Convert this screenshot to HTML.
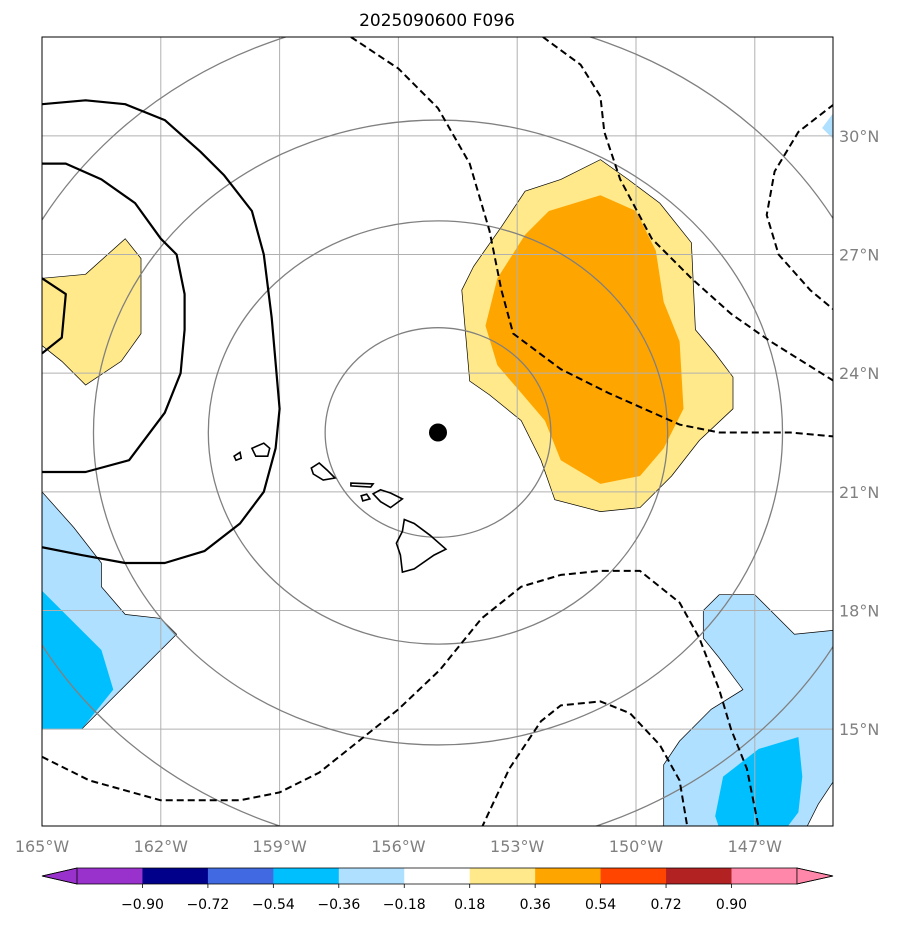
<!DOCTYPE html>
<html><head><meta charset="utf-8">
<style>
body{margin:0;background:#fff;width:903px;height:924px;overflow:hidden;font-family:"Liberation Sans","DejaVu Sans",sans-serif;}
svg text{font-family:"DejaVu Sans","Liberation Sans",sans-serif;}
</style></head>
<body>
<svg id="chart" width="903" height="924" viewBox="0 0 903 924" xmlns="http://www.w3.org/2000/svg">
<defs><clipPath id="mapclip"><rect x="42" y="37" width="791" height="789"/></clipPath></defs>
<text x="437" y="26" text-anchor="middle" font-size="17" fill="#000">2025090600 F096</text>
<g id="map" clip-path="url(#mapclip)"></g>
<rect x="42" y="37" width="791" height="789" fill="none" stroke="#000" stroke-width="1"/>
<g id="axes"></g>
<g id="cbar"></g>
</svg>
<script>
const lonTicks = [-165,-162,-159,-156,-153,-150,-147];
const latTicks = [30,27,24,21,18,15];
const cbarLevels = [-0.90,-0.72,-0.54,-0.36,-0.18,0.18,0.36,0.54,0.72,0.90];
const cbarColors = ["#9932cc","#00008b","#4169e1","#00bfff","#b0e0ff","#ffffff","#ffe98a","#ffa500","#ff4500","#b22222","#ff88aa"];
const stormCenter = [-155.0,22.5];
const yellowRight = [[-150.9,29.4],[-150.2,28.9],[-149.4,28.3],[-148.6,27.3],[-148.5,25.1],[-148.0,24.5],[-147.55,23.9],[-147.55,23.1],[-148.4,22.3],[-149.1,21.4],[-149.9,20.6],[-150.9,20.5],[-152.05,20.8],[-152.4,21.8],[-152.9,22.8],[-153.7,23.45],[-154.2,23.8],[-154.4,26.1],[-154.1,26.7],[-153.4,27.7],[-152.8,28.6],[-151.9,28.9]];
const orangeRight = [[-150.9,28.5],[-150.0,28.1],[-149.5,27.1],[-149.3,25.8],[-148.9,24.8],[-148.8,23.1],[-149.3,22.1],[-149.9,21.4],[-150.9,21.2],[-151.9,21.8],[-152.3,22.8],[-152.9,23.5],[-153.5,24.2],[-153.8,25.2],[-153.5,26.4],[-152.8,27.5],[-152.2,28.1]];
const yellowLeft = [[-165,26.4],[-163.9,26.5],[-162.9,27.4],[-162.5,26.9],[-162.5,25.0],[-163.0,24.3],[-163.9,23.7],[-164.5,24.3],[-165,24.7]];
const lightBlueLeft = [[-165,21.0],[-164.2,20.1],[-163.5,19.2],[-163.5,18.6],[-162.9,17.9],[-162.0,17.8],[-161.6,17.4],[-162.3,16.7],[-163.3,15.7],[-164.0,15.0],[-165,15.0]];
const deepBlueLeft = [[-165,18.5],[-164.5,18.0],[-163.5,17.0],[-163.2,16.0],[-164.0,15.0],[-165,15.0]];
const lightBlueRight = [[-148.3,18.0],[-147.9,18.4],[-147.0,18.4],[-146.0,17.4],[-145.0,17.5],[-145.0,13.7],[-145.4,13.1],[-145.7,12.5],[-149.3,12.5],[-149.3,14.1],[-148.9,14.7],[-148.1,15.5],[-147.3,16.0],[-147.9,16.8],[-148.3,17.3]];
const deepBlueRight = [[-148.0,12.8],[-147.8,13.8],[-146.9,14.5],[-145.9,14.8],[-145.8,13.8],[-145.9,12.9],[-146.2,12.5],[-147.9,12.5]];
const lightBlueCorner = [[-145.3,30.2],[-145.0,30.6],[-145.0,29.9]];
const grayRings = [[2.85,2.65],[5.8,5.35],[8.7,7.9],[11.6,10.6]];
const dashed1 = [[-157.2,32.5],[-156.0,31.7],[-155.0,30.7],[-154.2,29.3],[-153.7,27.6],[-153.4,26.1],[-153.1,25.0],[-151.9,24.1],[-150.7,23.5],[-148.9,22.7],[-147.9,22.5],[-146.1,22.5],[-145.0,22.4]];
const dashed2 = [[-152.35,32.5],[-151.4,31.8],[-150.9,31.0],[-150.8,30.1],[-150.4,28.9],[-149.6,27.4],[-148.6,26.4],[-147.6,25.5],[-146.6,24.8],[-145.0,23.8]];
const dashed3 = [[-145.0,30.8],[-145.9,30.1],[-146.5,29.1],[-146.7,28.0],[-146.4,27.0],[-145.6,26.1],[-145.0,25.6]];
const dashed4 = [[-165,14.3],[-163.8,13.7],[-162.0,13.2],[-160.0,13.2],[-159.0,13.4],[-158.0,13.9],[-157.0,14.7],[-156.0,15.5],[-154.95,16.5],[-153.9,17.8],[-152.9,18.6],[-151.9,18.9],[-150.9,19.0],[-149.9,19.0],[-148.9,18.2],[-148.4,17.3],[-147.9,16.0],[-147.6,15.0],[-147.2,14.0],[-146.9,12.5]];
const dashed5 = [[-153.9,12.5],[-153.2,14.0],[-152.4,15.2],[-151.9,15.6],[-150.9,15.7],[-150.15,15.4],[-149.4,14.6],[-148.9,13.7],[-148.7,12.5]];
const solid1 = [[-165,30.8],[-163.9,30.9],[-162.9,30.8],[-161.9,30.4],[-161.0,29.6],[-160.4,29.0],[-159.7,28.1],[-159.4,27.0],[-159.2,25.4],[-159.0,23.1],[-159.1,22.1],[-159.4,21.0],[-160.0,20.2],[-160.9,19.5],[-161.9,19.2],[-162.9,19.2],[-164.0,19.4],[-165,19.6]];
const solid2 = [[-165,29.3],[-164.4,29.3],[-163.5,28.9],[-162.65,28.3],[-162.0,27.4],[-161.6,27.0],[-161.4,26.0],[-161.4,25.1],[-161.5,24.0],[-161.9,23.0],[-162.8,21.8],[-163.9,21.5],[-165,21.5]];
const solid3 = [[-165,26.4],[-164.4,26.0],[-164.5,24.9],[-165,24.5]];
const islands = [
 [[-158.2,21.6],[-158.0,21.73],[-157.8,21.55],[-157.6,21.35],[-157.9,21.3],[-158.15,21.45]],
 [[-157.2,21.22],[-156.64,21.2],[-156.7,21.12],[-157.2,21.15]],
 [[-156.94,20.9],[-156.8,20.94],[-156.72,20.82],[-156.9,20.77]],
 [[-156.64,20.95],[-156.45,21.05],[-156.2,20.97],[-155.9,20.82],[-156.2,20.6],[-156.45,20.75]],
 [[-155.85,20.3],[-155.6,20.2],[-155.2,19.9],[-154.8,19.55],[-155.1,19.4],[-155.6,19.05],[-155.9,18.97],[-155.95,19.4],[-156.05,19.7],[-155.9,20.0]],
 [[-159.7,22.1],[-159.4,22.23],[-159.25,22.1],[-159.3,21.9],[-159.6,21.9]],
 [[-160.15,21.9],[-160.0,22.0],[-159.97,21.85],[-160.1,21.8]]
];
const X = lon => 42 + (lon + 165) * 39.6;
const Y = lat => 37 + (32.5 - lat) * 39.55;
const NS = "http://www.w3.org/2000/svg";
const map = document.getElementById("map");
const axes = document.getElementById("axes");
const cbar = document.getElementById("cbar");
function mk(tag, attrs, parent){const e=document.createElementNS(NS,tag);for(const k in attrs)e.setAttribute(k,attrs[k]);parent.appendChild(e);return e;}
function pts(arr){return arr.map(p=>X(p[0]).toFixed(1)+","+Y(p[1]).toFixed(1)).join(" ");}
function poly(arr,fill,stroke,sw,name){const e=mk("polygon",{points:pts(arr),fill:fill,stroke:stroke,"stroke-width":sw},map);

return e;}
function line(arr,stroke,sw,dash,name){const e=mk("polyline",{points:pts(arr),fill:"none",stroke:stroke,"stroke-width":sw,"stroke-linejoin":"round"},map);if(dash)e.setAttribute("stroke-dasharray",dash);

return e;}
poly(yellowRight,"#ffe98a","#000",0.7,"yellow-anomaly-east");
poly(orangeRight,"#ffa500","none",0,"orange-anomaly-east");
poly(yellowLeft,"#ffe98a","#000",0.7,"yellow-anomaly-west");
poly(lightBlueLeft,"#b0e0ff","#000",0.7,"lightblue-anomaly-west");
poly(deepBlueLeft,"#00bfff","none",0,"blue-anomaly-west");
poly(lightBlueRight,"#b0e0ff","#000",0.7,"lightblue-anomaly-east");
poly(deepBlueRight,"#00bfff","none",0,"blue-anomaly-east");
poly(lightBlueCorner,"#b0e0ff","none",0,"lightblue-anomaly-corner");
lonTicks.forEach(l=>{const e=mk("line",{x1:X(l),x2:X(l),y1:37,y2:826,stroke:"#b0b0b0","stroke-width":1},map);

});
latTicks.forEach(l=>{const e=mk("line",{x1:42,x2:833,y1:Y(l),y2:Y(l),stroke:"#b0b0b0","stroke-width":1},map);

});
grayRings.forEach(r=>{const e=mk("ellipse",{cx:X(stormCenter[0]),cy:Y(stormCenter[1]),rx:r[0]*39.6,ry:r[1]*39.55,fill:"none",stroke:"#808080","stroke-width":1.3},map);

});
[dashed1,dashed2,dashed3,dashed4,dashed5].forEach(d=>line(d,"#000",2,"7,4","negative-dashed-contour"));
[solid1,solid2,solid3].forEach(d=>line(d,"#000",2.2,null,"positive-solid-contour"));
islands.forEach(d=>poly(d,"none","#000",1.6,"hawaii-island-outline"));
const dot=mk("circle",{cx:X(stormCenter[0]),cy:Y(stormCenter[1]),r:9,fill:"#000"},map);


lonTicks.forEach(l=>{const t=mk("text",{x:X(l),y:852,"text-anchor":"middle","font-size":"16",fill:"#808080"},axes);t.textContent=Math.abs(l)+"°W";

});
latTicks.forEach(l=>{const t=mk("text",{x:839,y:Y(l)+6,"font-size":"16",fill:"#808080"},axes);t.textContent=l+"°N";

});
const cx0=77,cw=65.45,cy=868,ch=16;
cbarColors.forEach((c,i)=>{const r=mk("rect",{x:cx0+i*cw,y:cy,width:cw+0.5,height:ch,fill:c},cbar);

});
const lt=mk("polygon",{points:`42,${cy+ch/2} ${cx0},${cy} ${cx0},${cy+ch}`,fill:cbarColors[0],stroke:"#000","stroke-width":0.8},cbar);


const xr=cx0+cbarColors.length*cw;
const rt=mk("polygon",{points:`${xr},${cy} 833,${cy+ch/2} ${xr},${cy+ch}`,fill:cbarColors[cbarColors.length-1],stroke:"#000","stroke-width":0.8},cbar);


const ob=mk("polyline",{points:`${cx0},${cy} 42,${cy+ch/2} ${cx0},${cy+ch} ${xr},${cy+ch} 833,${cy+ch/2} ${xr},${cy} ${cx0},${cy}`,fill:"none",stroke:"#000","stroke-width":0.8},cbar);


cbarLevels.forEach((v,i)=>{const x=cx0+(i+1)*cw;
const tk=mk("line",{x1:x,x2:x,y1:cy+ch,y2:cy+ch+4,stroke:"#000","stroke-width":0.8},cbar);


const t=mk("text",{x:x,y:909,"text-anchor":"middle","font-size":"14",fill:"#000"},cbar);t.textContent=(v<0?"\u2212":"")+Math.abs(v).toFixed(2);

});
</script>
</body></html>
